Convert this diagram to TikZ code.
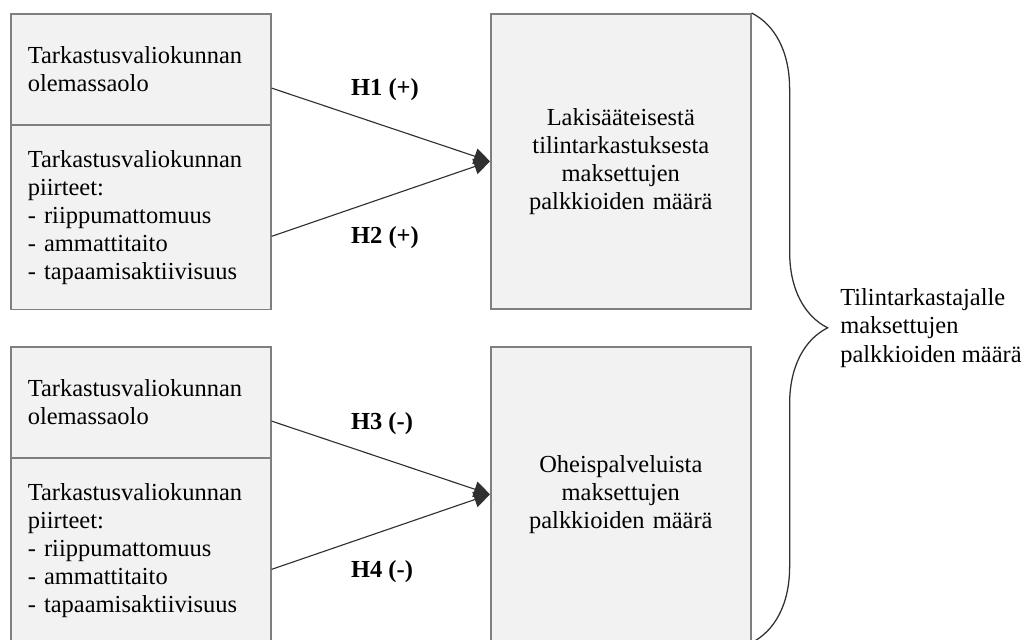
\documentclass[tikz,border=0pt]{standalone}
\usepackage{fontspec}
\setmainfont{Liberation Serif}
\usetikzlibrary{arrows.meta,positioning,calc,decorations.pathreplacing}
\definecolor{boxFill}{HTML}{F2F2F2}
\definecolor{boxLine}{HTML}{7F7F7F}
\definecolor{linkLine}{HTML}{303030}
\tikzset{
  boxbase/.style={draw=boxLine, fill=boxFill, line width=1.1pt, minimum width=6.5cm,
    inner xsep=0.425cm, text width=5.65cm, font=\fontsize{17.4}{20}\selectfont},
  cause/.style={boxbase, align=left, minimum height=#1},
  cause/.default={2.775cm},
  outcome/.style={boxbase, align=center, minimum height=7.375cm},
  link/.style={draw=linkLine, line width=0.8pt, -{Triangle[length=4mm,width=4mm]}},
  hyp/.style={font=\fontsize{17.4}{20}\selectfont\bfseries},
  total/.style={align=left, anchor=west, font=\fontsize{17.4}{20}\selectfont, inner sep=0pt},
  curly/.style={draw=linkLine, line width=0.9pt, decorate, decoration={brace, amplitude=1.9cm}},
}

\begin{document}
\begin{tikzpicture}[x=0.025cm, y=-0.025cm]
\useasboundingbox (0,0) rectangle (1023,639);
% --- upper model
\node[cause, anchor=north west] (a1) at (10,13) {Tarkastusvaliokunnan\\olemassaolo};
\node[cause=4.6cm, below=-0.6pt of a1] (a2) {Tarkastusvaliokunnan\\piirteet:\\- riippumattomuus\\- ammattitaito\\- tapaamisaktiivisuus};
\node[outcome, anchor=north west] (y1) at (490,13) {Lakisääteisestä\\tilintarkastuksesta\\maksettujen\\palkkioiden määrä};
\draw[link] ([yshift=-0.47cm]a1.east) -- (y1.west);
\draw[link] ([yshift=-0.47cm]a2.east) -- (y1.west);
\node[hyp] (h1) at (385,90) {H1 (+)};
\node[hyp] (h2) at (385,238) {H2 (+)};
% --- lower model
\node[cause, anchor=north west] (b1) at (10,346) {Tarkastusvaliokunnan\\olemassaolo};
\node[cause=4.6cm, below=-0.6pt of b1] (b2) {Tarkastusvaliokunnan\\piirteet:\\- riippumattomuus\\- ammattitaito\\- tapaamisaktiivisuus};
\node[outcome, anchor=north west] (y2) at (490,346) {Oheispalveluista\\maksettujen\\palkkioiden määrä};
\draw[link] ([yshift=-0.47cm]b1.east) -- (y2.west);
\draw[link] ([yshift=-0.47cm]b2.east) -- (y2.west);
\node[hyp] (h3) at (382,424) {H3 (-)};
\node[hyp] (h4) at (382,572) {H4 (-)};
% --- total fees
\draw[curly] (y1.north east) -- (y2.south east);
\node[total] (tot) at (840,328) {Tilintarkastajalle\\maksettujen\\palkkioiden määrä};
\end{tikzpicture}
\end{document}
